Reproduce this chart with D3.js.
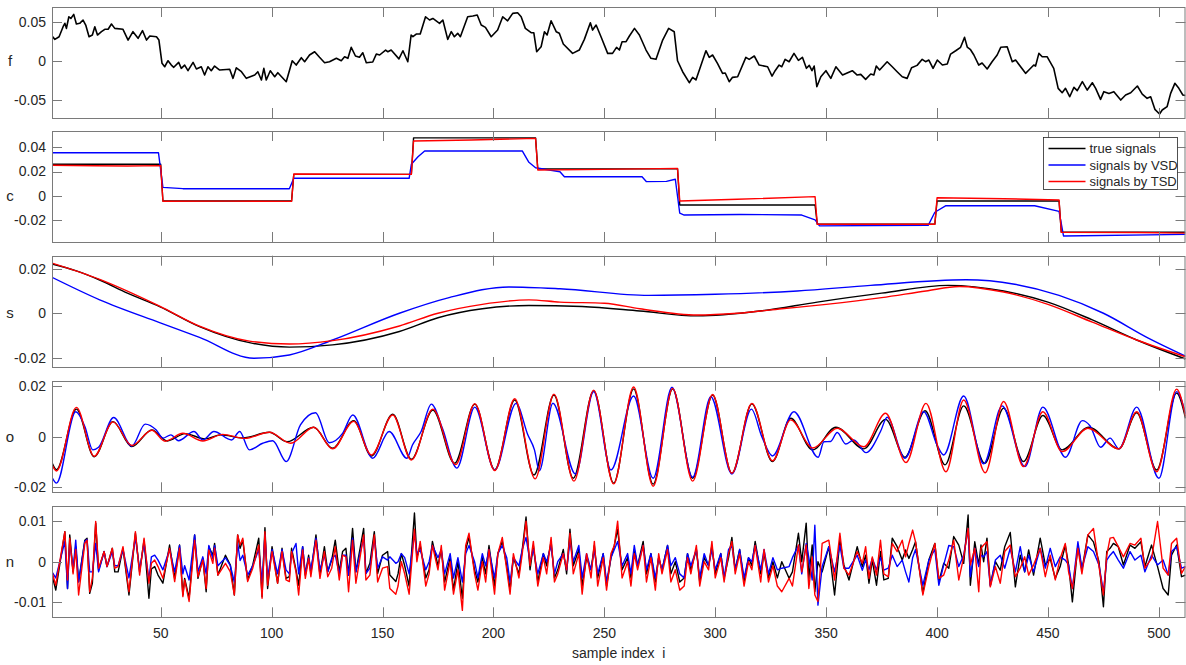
<!DOCTYPE html>
<html>
<head>
<meta charset="utf-8">
<script src="https://cdn.jsdelivr.net/npm/d3@7"></script>
<style>
  body { margin: 0; background: #fff; }
  text { font-family: "Liberation Sans", Arial, sans-serif; fill: #262626; }
</style>
</head>
<body>
<div id="chart"></div>
<script>
// ---- data ----
var xTicks = [50, 100, 150, 200, 250, 300, 350, 400, 450, 500];
var seriesNames = ['true signals', 'signals by VSD', 'signals by TSD'];

// f : observed signal [sample, value]
var fObs = [[1,0.0323],[2.3,0.028],[4.2,0.0314],[6,0.0443],[6.8,0.0487],[7.5,0.0422],[8.6,0.0572],[9.5,0.055],[10.8,0.0603],
  [12,0.0478],[13.5,0.0487],[15,0.053],[16.2,0.0465],[17.7,0.0314],[19.2,0.0336],[20.3,0.0443],[21.5,0.0336],[23.3,0.0379],
  [24.8,0.041],[26.3,0.041],[27.8,0.0478],[29.3,0.0422],[33,0.041],[35.3,0.0271],[37.5,0.0379],[39.8,0.0293],[41.8,0.0392],
  [43.6,0.0271],[45.1,0.0323],[48.1,0.0314],[49.2,0.0271],[50.6,-0.003],[51.8,-0.0074],[53.3,0.0004],[54.8,-0.0052],
  [55.9,-0.0081],[58.1,-0.0017],[59.3,-0.0094],[60.8,-0.0052],[62.3,-0.0125],[64.6,-0.0017],[66.1,-0.0103],[68.3,-0.0074],
  [69.8,-0.0181],[71.3,-0.0074],[72.8,-0.0125],[74.3,-0.0065],[76.6,-0.0116],[81.1,-0.0107],[82.6,-0.0224],[84.1,-0.0087],
  [86.4,-0.0138],[88.6,-0.0224],[92.4,-0.0181],[93.8,-0.0138],[95.4,-0.0245],[96.5,-0.0094],[97.6,-0.0245],[99.4,-0.0125],
  [101.4,-0.0203],[102.8,-0.0151],[106.6,-0.0267],[109.3,0.0004],[111.1,-0.0052],[113.4,0.0043],[114.9,-0.0009],
  [117.1,0.0078],[119.4,0.012],[121.6,0.0048],[123.9,-0.0022],[126.1,-0.0009],[129.2,0.0035],[131.4,0.0004],[132.9,0.0056],
  [134.4,0.0035],[135.9,0.0177],[137.8,0.0065],[139.6,0.0048],[141.1,0.0107],[142.7,-0.0022],[145.6,-0.0013],[147.2,0.009],
  [148.7,0.0078],[151.4,0.0142],[152.4,0.012],[153.9,0.0142],[157.4,0.0028],[159.2,0.0133],[161.4,-0.0009],[162.9,0.0336],
  [163.7,0.0314],[165.2,0.0349],[167,0.0349],[169.4,0.0572],[171.2,0.053],[172.7,0.055],[175.7,0.0487],[177.2,0.053],
  [179.4,0.028],[181,0.0379],[182.4,0.0314],[183.9,0.0358],[185.1,0.0314],[188.4,0.0572],[190.7,0.0581],[192.7,0.0594],
  [194.5,0.0465],[196.4,0.0435],[199,0.0314],[201.9,0.04],[204.2,0.0572],[206.4,0.052],[208.7,0.0616],[210.9,0.0624],
  [212.5,0.0572],[214.4,0.0422],[217,0.0366],[218.2,0.0366],[219.5,0.012],[221.5,0.0185],[223,0.0379],[224.2,0.0336],
  [226,0.052],[228.3,0.0379],[229.7,0.0358],[231.5,0.022],[235.7,0.0099],[238.7,0.0142],[241,0.028],[243.7,0.0495],
  [244.7,0.04],[246.3,0.0465],[248.5,0.0314],[251.5,0.0099],[253.7,0.0099],[255.5,0.0177],[256.8,0.0142],[258,0.025],
  [259.8,0.025],[261.3,0.0323],[263.6,0.0422],[265.8,0.0336],[268.8,0.0142],[271,0.0035],[273.3,0.0022],[276.3,0.0271],
  [279,0.0422],[281.5,0.0379],[283,0.0004],[285.3,-0.0138],[288.3,-0.028],[289.8,-0.0211],[291.3,-0.0245],[295.8,0.0133],
  [297.3,0.0048],[298.8,0.0078],[301,-0.003],[303.3,-0.0159],[304.5,-0.0155],[306.3,-0.0267],[307.8,-0.0211],
  [310.1,-0.0203],[313.8,0.0048],[315.3,0.0022],[317.6,0.0065],[319.8,-0.0052],[323.6,-0.0074],[325.6,-0.0194],
  [327,-0.0125],[328.8,-0.0052],[330,-0.0074],[331.5,0.0022],[333.3,-0.0009],[335.5,0.0099],[337.5,0.0009],[339.3,0.0048],
  [341.1,-0.0094],[342.4,-0.0056],[343.6,-0.0125],[344.6,-0.0065],[345.8,-0.0332],[347.6,-0.0203],[349.9,-0.0125],
  [352.1,-0.0224],[354.4,-0.0074],[357.4,-0.0181],[361.8,-0.0125],[364,-0.0181],[365.6,-0.0172],[367.8,-0.0237],
  [370.1,-0.0168],[371.5,-0.0181],[372.6,-0.0065],[374.1,-0.0116],[377.5,-0.0009],[379.8,-0.0074],[382,-0.0138],
  [384.3,-0.0203],[386.5,-0.0224],[388.5,-0.0087],[391,-0.0056],[393.3,0.0022],[394.8,-0.0009],[396.3,0.0013],
  [398.2,-0.0094],[400.1,0.0013],[402.4,-0.0052],[404.6,-0.0039],[406.1,0.009],[408.4,0.0133],[410.6,0.0177],
  [412.4,0.0306],[413.6,0.0181],[415.1,0.0146],[416.6,0.0078],[418.8,-0.0052],[420.3,-0.0026],[422.6,-0.0103],
  [424.8,-0.0009],[427.1,0.0078],[428.7,0.0177],[431.6,0.0185],[433.9,-0.0009],[435.4,0.0013],[439.9,-0.0159],
  [441.4,-0.0116],[443.6,-0.0052],[444.4,-0.0065],[445.9,0.0099],[447.4,0.0056],[449.6,0.0056],[452.6,-0.0094],
  [454.6,-0.0353],[456.4,-0.041],[457.9,-0.0353],[459.8,-0.0461],[461.7,-0.034],[463.2,-0.0383],[465.5,-0.0267],
  [467.7,-0.0375],[470,-0.0281],[471.5,-0.0353],[473.7,-0.0495],[475.2,-0.0396],[477.5,-0.0418],[479.7,-0.0396],
  [482.8,-0.0504],[485,-0.0439],[487.3,-0.041],[490.3,-0.0323],[492.5,-0.0427],[494.7,-0.0482],[496.3,-0.0461],
  [498.2,-0.0624],[500.3,-0.0685],[501.5,-0.0633],[503.7,-0.059],[505.3,-0.0418],[507.2,-0.0288],[509,-0.0353],
  [510.8,-0.0439],[512,-0.0445]];

// c : piecewise constant component
var cTrue = [[1,0.026],[50,0.026],[51,-0.0044],[109,-0.0044],[110,0.0176],[163,0.0176],[164,0.0478],[219,0.0478],
  [220,0.0222],[283,0.0222],[284,-0.0077],[345,-0.0077],[346,-0.0235],[399,-0.0235],[400,-0.0044],[455,-0.0044],
  [456,-0.0302],[512,-0.0302]];
var cVSD = [[1,0.0355],[49,0.0355],[51,0.0069],[60,0.0058],[108,0.0058],[110,0.0144],[162,0.0144],[163,0.026],
  [166,0.0322],[169,0.037],[213,0.037],[216,0.0276],[219,0.0231],[230,0.0198],[232,0.0157],[267,0.0157],[269,0.0116],
  [278,0.0118],[282,0.0136],[284,-0.0145],[286,-0.016],[311,-0.0155],[339,-0.016],[345,-0.02],[347,-0.025],
  [396,-0.0245],[399,-0.0137],[404,-0.0083],[444,-0.0083],[455,-0.013],[457,-0.0333],[512,-0.032]];
var cTSD = [[1,0.0252],[20,0.0248],[35,0.0246],[50,0.0249],[51,-0.0046],[80,-0.0045],[109,-0.0047],[110,0.0179],
  [163,0.0176],[164,0.0452],[190,0.046],[219,0.0474],[220,0.0212],[250,0.0218],[283,0.0226],[284,-0.0044],
  [310,-0.003],[345,-0.0008],[346,-0.0236],[399,-0.0236],[400,-0.0017],[430,-0.0025],[455,-0.0036],[456,-0.0302],
  [490,-0.0305],[512,-0.031]];

// s : smooth component
var sTrue = [[1,0.0221],[12,0.019],[22.5,0.0149],[35,0.009],[49.5,0.003],[67.5,-0.006],[90,-0.0132],[108,-0.0152],
  [127.5,-0.0142],[157.6,-0.0082],[175,-0.002],[195,0.002],[216,0.0035],[240,0.003],[266,0.001],[292,-0.0012],
  [320,0.001],[346,0.005],[375,0.009],[405,0.0125],[430,0.01],[450,0.005],[470,-0.003],[490,-0.012],[512,-0.0205]];
var sVSD = [[1,0.0161],[22.5,0.006],[49.5,-0.0042],[67.5,-0.0108],[92,-0.0202],[108,-0.0187],[127.5,-0.012],
  [157.6,0],[180,0.007],[207,0.0118],[230,0.011],[270,0.008],[300,0.0085],[337,0.01],[370,0.0125],[413,0.015],
  [435,0.013],[455,0.008],[475,0],[495,-0.011],[512,-0.0192]];
var sTSD = [[1,0.0225],[22.5,0.0152],[49.5,0.0032],[67.5,-0.0058],[90,-0.0125],[108,-0.0138],[127.5,-0.0123],
  [157.6,-0.0057],[175,0],[195,0.004],[216,0.006],[230,0.005],[250,0.0045],[266,0.002],[292,-0.0008],[310,0],
  [330,0.002],[350,0.004],[375,0.007],[395,0.01],[410,0.012],[430,0.0095],[450,0.004],[470,-0.004],[490,-0.012],
  [512,-0.0195]];

// o : oscillatory component (turning points)
var oTrue = [[1,-0.0102],[3,-0.013],[12,0.0108],[20,-0.0079],[28.5,0.0059],[37,-0.0039],[46,0.0026],[53,-0.0017],
  [61,0.0012],[70,-0.0009],[77,0.0007],[87,-0.0005],[99,0.0017],[107,-0.002],[119,0.0037],[127.5,-0.0046],[137,0.0063],
  [145,-0.0076],[154.6,0.0088],[163,-0.0089],[172.7,0.0105],[182.5,-0.0105],[191.6,0.0128],[200.6,-0.0131],
  [209.6,0.0144],[218.3,-0.0151],[227.3,0.0164],[236,-0.0164],[245.2,0.0181],[254.2,-0.0183],[263.2,0.0188],
  [272,-0.0187],[280.8,0.0188],[289.8,-0.0164],[298.8,0.0164],[307.5,-0.0144],[316.5,0.0129],[325.8,-0.0098],
  [334,0.0072],[343.9,-0.0052],[354.4,0.0037],[367,-0.0048],[376.8,0.0068],[385.5,-0.0081],[394.6,0.0102],
  [403.6,-0.0111],[412,0.0121],[421.5,-0.0105],[430,0.0112],[439,-0.0098],[447.7,0.0083],[456.4,-0.0052],
  [468.4,0.0037],[482,-0.0048],[490,0.0094],[499,-0.0131],[508,0.0171],[512,0.0072]];
var oVSD = [[1,-0.016],[3,-0.0183],[11.7,0.0098],[15.8,0.004],[19.4,-0.0052],[22,-0.0042],[28.8,0.0075],[37,-0.0037],
  [43,0.0049],[48,0.0026],[51,-0.0006],[54.6,0.0007],[58,-0.0016],[65,0.002],[69,-0.0013],[74,0.002],[82,-0.0013],
  [85.6,0.002],[90,-0.0052],[96,-0.0026],[100.5,-0.0016],[106.6,-0.0098],[113,0.0046],[119.8,0.0094],[126,-0.0024],
  [132,0.0013],[136.6,0.0085],[145.6,-0.0085],[153,0.002],[161,-0.0085],[163.5,-0.0033],[167.4,0.002],[172,0.0128],
  [177,0.0033],[183.5,-0.0124],[191.6,0.0116],[200.6,-0.0131],[210.2,0.0131],[215.5,0.0007],[218.5,-0.0052],
  [220.7,-0.0134],[226.8,0.0131],[237,-0.0147],[245.2,0.0177],[253,-0.0131],[263.2,0.016],[272,-0.0164],
  [280.5,0.0194],[289.8,-0.016],[298,0.0157],[307.5,-0.0147],[316.3,0.0108],[321,0],[325.8,-0.0076],[335.5,0.0098],
  [346.4,-0.0081],[349,-0.002],[352,-0.0019],[355,0.0016],[358.8,-0.0029],[362.5,-0.0013],[368,-0.0063],
  [374.5,0.002],[377.5,0.0076],[385.5,-0.0085],[394,0.0098],[400,-0.0033],[403,-0.0072],[412,0.016],[421,-0.0107],
  [429.3,0.0121],[439.6,-0.0118],[447.7,0.0116],[457.9,-0.0081],[465.5,0.0063],[469,0.0042],[473.7,-0.0042],
  [478,-0.0006],[482,-0.0048],[490,0.0116],[500,-0.0164],[508,0.0177],[512,0.009]];
var oTSD = [[1,-0.011],[3,-0.0135],[12,0.0115],[20,-0.0077],[28.5,0.0058],[37,-0.0035],[46,0.0025],[52,-0.0018],
  [60,0.0013],[69,-0.0017],[78,0.0009],[88,-0.0007],[99,0.0017],[108.6,-0.0026],[119,0.0037],[127.5,-0.0048],
  [137,0.006],[145,-0.0072],[154.6,0.0085],[163,-0.0092],[172.7,0.0108],[183,-0.011],[191.6,0.013],[200.6,-0.0133],
  [209.6,0.0149],[218.8,-0.0166],[227.3,0.0167],[236.3,-0.0175],[245.2,0.0183],[254.2,-0.0186],[263.2,0.0195],
  [272,-0.0195],[280.8,0.019],[289.8,-0.0175],[298.8,0.0166],[307.5,-0.0144],[316.5,0.0131],[325.8,-0.0095],
  [334,0.0066],[344,-0.0045],[355,0.0033],[367,-0.004],[376.8,0.0092],[386,-0.0102],[395,0.0131],[404,-0.0138],
  [412,0.0144],[421.7,-0.0142],[430,0.0138],[439,-0.0118],[447.7,0.0098],[456.4,-0.0059],[468,0.0033],
  [482,-0.0048],[490,0.0098],[499,-0.0138],[508,0.0187],[512,0.008]];

// n : noise component, three stretches (samples 1-156, 157-328, 330-512), sample positions shared by the series
var nIdxA = [1,2.7,6.8,8,9,10.5,11.7,13,15.8,16.8,18,19.2,20.7,22,24.5,25.8,28.2,29.3,30.8,33,35.7,38.6,40.5,42.5,
  44.7,45.8,47.3,48.8,51,54,56.3,58.5,60,60.8,62.8,65.3,66.8,69,70.5,71.7,73.5,74.3,75.8,79.2,81.4,83.2,84.7,85.8,
  87,89.2,91.5,94.2,95.7,97,98.2,100.2,102.7,104.7,106.5,108,109,111,112.2,114,115.2,116.7,117.7,120,121.8,123.8,
  125.3,127.1,128.7,130.5,132,133.5,134.7,136.5,138,141.5,142.5,144.3,146.3,147.8,150,152.3,153.3,156];
var nTrueA = [-0.0033,-0.007,0.0074,-0.0066,0.0066,-0.0025,0.0037,-0.0049,0.0053,0.0058,-0.0078,-0.0053,0.0095,
  -0.0021,0.0025,-0.0012,0.0033,-0.0025,-0.0025,0.0033,-0.0082,0.007,-0.0025,0.0053,-0.009,-0.0018,-0.0012,-0.0033,
  -0.0053,0.0041,-0.0041,0.0041,-0.0082,-0.0041,-0.009,0.0066,-0.0041,0.0008,-0.0074,0.0037,0.0016,0.0045,-0.0033,
  0.0016,-0.0008,-0.0082,0.0066,0.0033,0.0053,-0.0045,-0.0008,0.0058,-0.0086,0.0084,-0.0066,0.0037,-0.0053,0.0033,
  -0.0041,-0.0037,0.0033,-0.0021,-0.0058,0.0037,-0.0033,0.0016,-0.0029,0.0066,-0.0033,0.0037,-0.0025,0.0004,0.0053,
  -0.0025,0.0025,0.0033,-0.0033,0.0082,-0.0025,0.0082,-0.0029,-0.0004,0.0074,-0.0029,0.0016,0.0025,-0.0033,-0.0049];
var nVSDA = [-0.0025,-0.004,0.005,-0.0066,0.005,-0.002,0.0053,-0.005,0.005,0.0055,-0.0025,-0.0025,0.0045,-0.0025,
  0.0025,-0.0012,0.0025,-0.001,-0.001,0.003,-0.004,0.006,-0.002,0.0045,-0.0045,0.0012,0.0016,0.0004,-0.002,0.003,
  -0.0025,0.004,-0.003,-0.001,-0.0045,0.0066,-0.0025,0.0012,-0.003,0.004,0.0008,0.004,-0.001,0.001,-0.001,-0.005,
  0.0045,0.0003,0.0016,-0.0033,-0.001,0.003,-0.005,0.0066,-0.004,0.003,-0.003,0.003,-0.002,-0.003,0.002,0.0045,
  -0.003,0.0037,-0.003,0.001,-0.002,0.0058,-0.002,0.0016,-0.0025,0.0008,0.0016,-0.003,0.0016,0.0016,-0.0033,0.0058,
  -0.0025,0.006,-0.0029,-0.0016,0.0058,-0.0016,0.0012,0.0004,0.0012,-0.0004];
var nTSDA = [-0.0025,-0.0058,0.0074,-0.0045,0.0058,-0.003,0.003,-0.0082,0.0045,0.0053,-0.0074,-0.004,0.0099,-0.0016,
  0.0025,-0.0012,0.0033,-0.0016,-0.0012,0.0037,-0.0074,0.0074,-0.0033,0.0058,-0.0053,-0.0004,0.0004,-0.0012,-0.0041,
  0.0033,-0.0049,0.0033,-0.0086,-0.0045,-0.0098,0.0053,-0.0037,0.0004,-0.0066,0.0029,-0.0004,0.0033,-0.0033,-0.0004,
  -0.0025,-0.0082,0.0066,0.0041,0.0058,-0.0049,-0.0016,0.0041,-0.009,0.0074,-0.0058,0.0025,-0.0053,0.0025,-0.0045,
  -0.0049,0.0025,-0.0025,-0.0082,0.0029,-0.0041,0.0008,-0.0037,0.0053,-0.0041,0.0025,-0.0037,-0.0016,0.0037,-0.0045,
  0.0016,0.0012,-0.0074,0.0053,-0.0053,0.0066,-0.0045,-0.0033,0.0066,-0.005,-0.0016,-0.0012,-0.0066,-0.008];

var nIdxB = [157,158.5,160,162,164.4,165.5,167,169.5,171,172.5,
  175,176.5,178,180.5,182,184,186,187.5,189,191.5,
  193,195,196.5,198,200.5,202,204,206,207.5,209,
  211.5,213,214.7,216.5,218,220,222.5,224,226,227.5,
  229,231.5,233,234.5,236,238.5,240,242,244,245.5,
  247,249.5,251,253,254.5,256,258,260.5,262,263.5,
  265,267.5,269,271,273,274.5,276,278.5,280,282,
  284,286,287.5,289,291.5,293,295,297,298.5,300,
  302.5,304,306,307.5,309,311,313,315,316.5,318,
  320.5,322,324,326,328];
var nTrueB = [-0.003,0.002,-0.001,-0.006,0.012,0.001,0.004,-0.004,-0.002,0.005,
  -0.001,0.003,-0.005,0.001,-0.007,0,-0.009,0.003,0.006,-0.002,
  -0.005,0.001,-0.003,0.004,-0.006,0.002,0.005,-0.001,-0.007,0.001,
  -0.003,0.003,0.011,-0.002,0.004,-0.005,0.002,-0.001,0.005,-0.004,
  -0.002,0.003,-0.003,0.008,-0.001,0.003,-0.006,0.001,-0.002,0.004,
  -0.004,0.002,-0.006,0.001,0.004,0.008,-0.002,0.001,-0.004,0.003,
  -0.001,0.005,-0.003,0.002,-0.005,0.001,-0.002,0.004,-0.003,0,
  -0.005,-0.004,0.002,-0.002,0.003,-0.005,0.001,-0.001,0.004,-0.003,
  0.002,-0.004,0.001,0.006,-0.002,0.003,-0.005,0.001,-0.001,0.005,
  -0.003,0.002,-0.004,0,-0.004];
var nVSDB = [0,0.002,0.001,-0.003,0.007,0.002,0.003,-0.002,0,0.004,
  0.001,0.003,-0.003,0.002,-0.004,0.001,-0.005,0.002,0.004,0,
  -0.004,0.002,-0.001,0.003,-0.004,0.002,0.004,0.001,-0.005,0.001,
  -0.001,0.003,0.006,0,0.003,-0.003,0.002,0,0.004,-0.003,
  0,0.002,-0.002,0.005,0,0.004,-0.004,0.002,-0.002,0.003,
  -0.003,0.002,-0.005,0.001,0.003,0.005,-0.001,0.002,-0.003,0.004,
  -0.001,0.004,-0.002,0.002,-0.004,0.001,-0.002,0.004,-0.001,0.001,
  -0.003,-0.004,0.002,-0.001,0.003,-0.004,0.002,-0.001,0.003,-0.002,
  0.002,-0.004,0.003,0.004,-0.002,0.003,-0.004,0.001,0,0.004,
  -0.002,0.003,-0.003,0.001,-0.002];
var nTSDB = [-0.006,0,-0.003,-0.008,0.008,0,0.005,-0.006,-0.003,0.004,
  -0.002,0.004,-0.007,0,-0.008,-0.002,-0.012,0.004,0.007,-0.003,
  -0.007,0,-0.005,0.003,-0.008,0.002,0.006,-0.002,-0.008,0.002,
  -0.004,0.002,0.01,-0.001,0.005,-0.006,0.001,-0.003,0.006,-0.005,
  -0.003,0.002,-0.002,0.007,-0.003,0.002,-0.008,0.002,-0.004,0.005,
  -0.006,0.001,-0.007,0.002,0.004,0.01,-0.004,0,-0.006,0.002,
  -0.002,0.004,-0.005,0.001,-0.007,0.002,-0.003,0.003,-0.005,-0.002,
  -0.007,-0.006,0.001,-0.003,0.004,-0.006,0,-0.002,0.005,-0.004,
  0.001,-0.005,0.002,0.005,-0.003,0.002,-0.006,0,-0.002,0.004,
  -0.005,0.003,-0.005,-0.001,-0.006];

var nIdxC = [330,333.3,334.8,337.5,339,341,342.2,343.7,344.9,346.3,348.2,351.2,353.8,356.2,358,360.3,364,366.3,367.8,369.3,
  370.8,372.7,374.5,376,378,379.8,382,384.3,385.8,387.3,389,390.3,393.6,396.3,399,400.8,403,405.3,407.5,409.8,412,
  414,415,417,418.8,419.8,421,422.5,424,426.3,428.5,430.5,433,435.3,437.5,439.5,441.3,443.5,446.5,448.8,451,453.3,
  455.5,457.8,459.3,461,463.5,465.3,468,470.5,473,475,476.5,478,479.5,481.7,484,487,489.2,491.9,493.7,496.7,499.4,
  501.9,504.2,505.7,508,510.2,512];
var nTrueC = [0,-0.0041,-0.0025,0.007,0,0.0095,-0.0041,0.0041,-0.0074,0,-0.0025,0.0037,-0.0082,0.0053,-0.0008,-0.0045,0.0037,
  -0.0012,0.0016,-0.0053,0.0004,-0.0058,0.0025,-0.0045,-0.0041,0.0058,0.0037,0.0004,0.0029,0.0008,0.003,0.0049,
  -0.0078,0.0004,0.0045,-0.0049,-0.0004,-0.0016,0.0062,0.0041,-0.0004,0.0115,-0.0058,0.0049,-0.0008,0.0041,0,0.0058,
  -0.0058,0,-0.0021,0.0037,0.0072,-0.0062,0.0016,-0.0025,0.0029,-0.0033,0.0058,-0.0008,0.0008,-0.0041,-0.0012,
  0.0041,-0.0008,-0.0099,0.0041,-0.0021,0.0066,0.0049,0,-0.0111,0.0025,0.0033,0.0045,0.0037,-0.0008,0.0041,0.0033,
  0.0049,-0.0012,0.0041,-0.0012,-0.0066,-0.0082,0.0016,0.0041,-0.0037,-0.0033];
var nVSDC = [-0.0016,-0.0012,0.001,0.004,-0.003,0.0045,0.001,-0.0045,0.009,-0.0107,-0.0012,0.0037,-0.0025,0.004,-0.0016,
  -0.0016,0.0016,-0.0021,0.0004,-0.002,0.0008,-0.002,0.001,-0.0021,-0.0016,0.0016,-0.0012,0.0004,-0.0025,-0.005,
  0.001,0.003,-0.0058,0.0004,0.003,-0.0058,-0.0008,0.004,0.0037,-0.0012,0.0016,0.008,-0.0037,0.0033,-0.0012,0.0016,
  0.0012,0.0025,-0.006,0.0004,0.0016,-0.0016,0.0033,-0.0025,0.0037,-0.0025,0.0016,-0.0025,0.0033,-0.0016,0.0033,
  -0.0012,0.0012,0.0004,-0.0008,-0.0066,0.0049,-0.0016,0.0037,0.0025,-0.0008,-0.0074,0.0004,0.0016,0.0025,0.0004,
  -0.0016,0.0025,0.0004,0.0016,-0.0025,0.0016,-0.0008,0.0004,-0.0033,0.0025,0.0037,-0.0016,-0.0012];
var nTSDC = [-0.0074,-0.0041,-0.006,0.0041,-0.0025,0.0041,-0.0066,0.0012,-0.0082,-0.0098,0.0045,0.0053,-0.0045,0.007,-0.0016,
  -0.0033,0.0025,-0.0004,0.0037,-0.0041,0.0012,-0.0033,0.0053,-0.003,-0.0037,0.0045,0.0025,0.0053,0.0012,0.0045,
  0.0078,0.0049,-0.0082,-0.0012,0.0045,-0.0041,-0.0033,0.0004,0.0053,-0.0045,0.0012,0.0082,-0.0008,0.0033,-0.0074,
  0.0033,0.0041,0.0049,-0.0062,-0.0012,-0.0053,0.0025,0.0041,-0.0037,-0.0016,0.0012,-0.0033,-0.0008,0.0033,-0.0037,
  0.0016,-0.0045,0.0008,0.0045,-0.0025,-0.0066,0.0033,-0.003,0.0066,0.0082,-0.0012,-0.0082,0.0016,0.0058,0.006,
  0.0037,0.0012,0.0045,0.0041,0.0058,-0.0016,0.0008,0.0099,-0.0016,-0.0033,0.0045,0.0058,-0.0029,-0.0012];

var nIdx = nIdxA.concat(nIdxB, nIdxC);
var nTrue = nTrueA.concat(nTrueB, nTrueC);
var nVSD = nVSDA.concat(nVSDB, nVSDC);
var nTSD = nTSDA.concat(nTSDB, nTSDC);

function pairs(idx, vals) {
  return idx.map(function(d, k) { return [d, vals[k]]; });
}

// ---- layout ----
var width = 1186, height = 665;
var xLeft = 52, xRight = 1185.5;

var panels = [
  { label: 'f', top: 7,     bottom: 118,   domain: [-0.0736, 0.0698], ticks: [-0.05, 0, 0.05],
    series: [{ data: fObs, color: '#000000', width: 1.6 }] },
  { label: 'c', top: 131,   bottom: 242,   domain: [-0.0383, 0.0535], ticks: [-0.02, 0, 0.02, 0.04], legend: true,
    series: [{ data: cTrue, color: '#000000' }, { data: cVSD, color: '#0000ff' }, { data: cTSD, color: '#ff0000' }] },
  { label: 's', top: 255.7, bottom: 367,   domain: [-0.0241, 0.0258], ticks: [-0.02, 0, 0.02], curve: d3.curveMonotoneX,
    series: [{ data: sTrue, color: '#000000' }, { data: sVSD, color: '#0000ff' }, { data: sTSD, color: '#ff0000' }] },
  { label: 'o', top: 380.7, bottom: 492.3, domain: [-0.0219, 0.022], ticks: [-0.02, 0, 0.02], curve: d3.curveMonotoneX,
    series: [{ data: oTrue, color: '#000000' }, { data: oVSD, color: '#0000ff' }, { data: oTSD, color: '#ff0000' }] },
  { label: 'n', top: 505.7, bottom: 617.3, domain: [-0.0137, 0.0138], ticks: [-0.01, 0, 0.01], xLabels: true,
    series: [
      { data: pairs(nIdx, nTrue), color: '#000000' },
      { data: pairs(nIdx, nVSD), color: '#0000ff' },
      { data: pairs(nIdx, nTSD), color: '#ff0000' }] }
];

var svg = d3.select('#chart').append('svg')
  .attr('width', width)
  .attr('height', height)
  .attr('viewBox', '0 0 ' + width + ' ' + height);

var x = d3.scaleLinear().domain([1, 512]).range([xLeft, xRight]);
var tickLen = 10;

panels.forEach(function(p, pi) {
  var y = d3.scaleLinear().domain(p.domain).range([p.bottom, p.top]);
  var g = svg.append('g');

  g.append('clipPath').attr('id', 'clip' + pi)
    .append('rect')
      .attr('x', xLeft).attr('y', p.top)
      .attr('width', xRight - xLeft).attr('height', p.bottom - p.top);

  var line = d3.line()
    .x(function(d) { return x(d[0]); })
    .y(function(d) { return y(d[1]); })
    .curve(p.curve || d3.curveLinear);

  var plot = g.append('g').attr('clip-path', 'url(#clip' + pi + ')');
  p.series.forEach(function(s) {
    plot.append('path')
      .attr('d', line(s.data))
      .attr('fill', 'none')
      .attr('stroke', s.color)
      .attr('stroke-width', s.width || 1.4)
      .attr('stroke-linejoin', 'round');
  });

  // inward ticks on all four sides (box on)
  var ticks = g.append('g').attr('stroke', '#7a7a7a').attr('stroke-width', 1);
  xTicks.forEach(function(t) {
    var xp = Math.round(x(t)) + 0.5;
    ticks.append('line').attr('x1', xp).attr('x2', xp).attr('y1', p.bottom).attr('y2', p.bottom - tickLen);
    ticks.append('line').attr('x1', xp).attr('x2', xp).attr('y1', p.top).attr('y2', p.top + tickLen);
  });
  p.ticks.forEach(function(t) {
    var yp = Math.round(y(t)) + 0.5;
    ticks.append('line').attr('x1', xLeft).attr('x2', xLeft + tickLen).attr('y1', yp).attr('y2', yp);
    ticks.append('line').attr('x1', xRight).attr('x2', xRight - tickLen).attr('y1', yp).attr('y2', yp);
    g.append('text')
      .attr('x', xLeft - 6)
      .attr('y', y(t))
      .attr('dy', '0.35em')
      .attr('text-anchor', 'end')
      .style('font-size', '14px')
      .text(String(t));
  });

  g.append('rect')
    .attr('x', xLeft + 0.5).attr('y', Math.round(p.top) + 0.5)
    .attr('width', xRight - xLeft - 1).attr('height', Math.round(p.bottom) - Math.round(p.top))
    .attr('fill', 'none')
    .attr('stroke', '#7a7a7a')
    .attr('stroke-width', 1);

  g.append('text')
    .attr('x', 10)
    .attr('y', y(0))
    .attr('dy', '0.35em')
    .attr('text-anchor', 'middle')
    .style('font-size', '15px')
    .text(p.label);

  if (p.xLabels) {
    xTicks.forEach(function(t) {
      g.append('text')
        .attr('x', x(t))
        .attr('y', p.bottom + 21)
        .attr('text-anchor', 'middle')
        .style('font-size', '14px')
        .text(t);
    });
    g.append('text')
      .attr('x', (xLeft + xRight) / 2)
      .attr('y', p.bottom + 41)
      .attr('text-anchor', 'middle')
      .style('font-size', '14px')
      .text('sample index\u00a0\u00a0i');
  }

  if (p.legend) {
    var lg = g.append('g').attr('transform', 'translate(1043.5, 137.5)');
    lg.append('rect')
      .attr('width', 134).attr('height', 52)
      .attr('fill', '#fff')
      .attr('stroke', '#262626')
      .attr('stroke-width', 0.8);
    p.series.forEach(function(s, k) {
      var ly = 11 + k * 16.5;
      lg.append('line')
        .attr('x1', 5).attr('x2', 42).attr('y1', ly).attr('y2', ly)
        .attr('stroke', s.color).attr('stroke-width', 1.4);
      lg.append('text')
        .attr('x', 46).attr('y', ly).attr('dy', '0.35em')
        .style('font-size', '13px')
        .text(seriesNames[k]);
    });
  }
});
</script>
</body>
</html>
